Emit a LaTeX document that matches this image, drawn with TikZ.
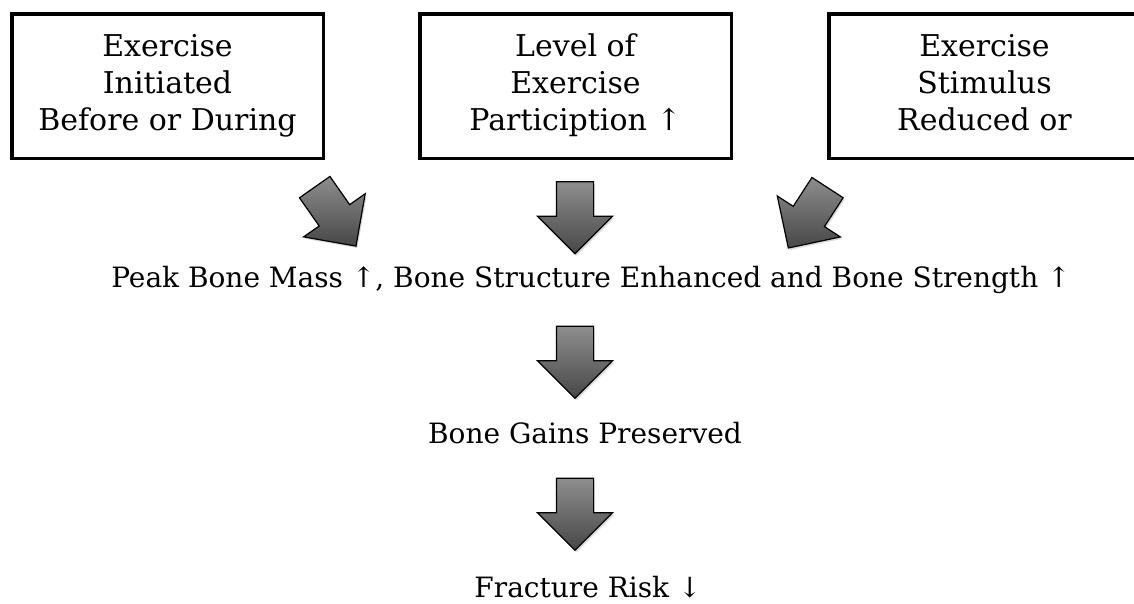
\documentclass[tikz,border=0pt]{standalone}
\usepackage{fontspec}
\setmainfont{DejaVu Serif}
\usetikzlibrary{shapes.arrows,shadows,positioning}
\definecolor{arrowlight}{HTML}{8E8E8E}
\definecolor{arrowdark}{HTML}{474747}
\tikzset{
  causebox/.style={draw, line width=3.5pt, minimum width=311.5pt, minimum height=144.5pt,
    align=center, inner sep=0pt, text height=96pt, text depth=6.5pt,
    font=\fontsize{30}{37}\selectfont},
  bigarrow/.style={single arrow, draw, line width=1.2pt, top color=arrowlight, bottom color=arrowdark,
    minimum height=72pt, inner xsep=0pt, inner ysep=18pt, single arrow head extend=19pt,
    drop shadow={shadow xshift=1.5pt, shadow yshift=-2pt, fill=gray!55}},
  outcome/.style={font=\fontsize{28}{33}\selectfont, inner sep=0pt, anchor=base}
}
\begin{document}
\begin{tikzpicture}[x=1pt,y=-1pt]
\useasboundingbox (0,0) rectangle (1134,603);
\fill[white] (0,0) rectangle (1134,603);
% causes
\node[causebox] (early) at (167.5,86) {Exercise\\Initiated\\Before or During};
\node[causebox] (level) at (575.5,86) {Level of\\Exercise\\Particiption ↑};
\node[causebox] (reduced) at (984.5,86) {Exercise\\Stimulus\\Reduced or};
% arrows
\node[bigarrow, rotate=-55] (arrL) at (330,209) {};
\node[bigarrow, rotate=-90] (arrM) at (575,208.5) {};
\node[bigarrow, rotate=-123] (arrR) at (813,210) {};
% chain
\node[outcome] (peak) at (591,287) {Peak Bone Mass ↑, Bone Structure Enhanced and Bone Strength ↑};
\node[bigarrow, rotate=-90] (arrG) at (575,353) {};
\node[outcome] (gains) at (585,443) {Bone Gains Preserved};
\node[bigarrow, rotate=-90] (arrF) at (575,505) {};
\node[outcome] (risk) at (588,597) {Fracture Risk ↓};
\end{tikzpicture}
\end{document}
